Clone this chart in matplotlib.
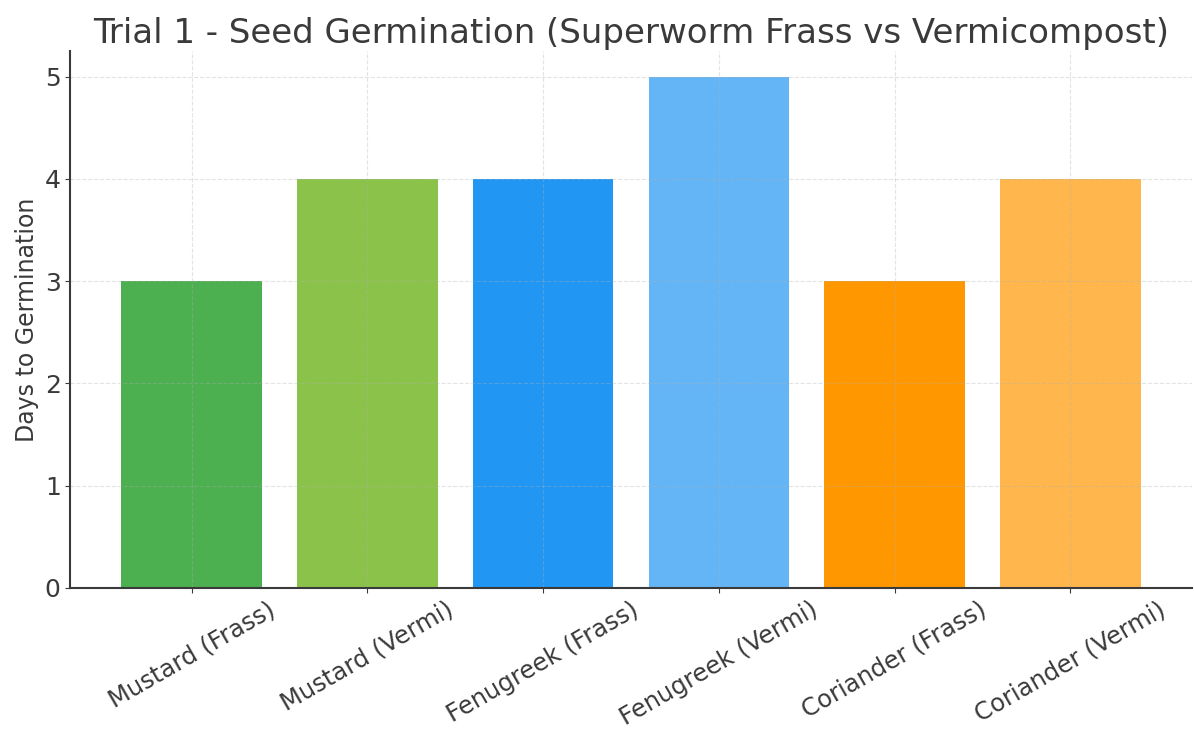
import matplotlib
matplotlib.use("Agg")
import matplotlib.pyplot as plt

# Datos del ensayo
labels = ["Mustard (Frass)", "Mustard (Vermi)", "Fenugreek (Frass)",
          "Fenugreek (Vermi)", "Coriander (Frass)", "Coriander (Vermi)"]
days = [3, 4, 4, 5, 3, 4]
colors = ["#4CAF50", "#8BC34A", "#2196F3", "#64B5F6", "#FF9800", "#FFB74D"]

fig, ax = plt.subplots(figsize=(11.94, 7.32), dpi=100)
fig.subplots_adjust(left=0.059, right=0.998, top=0.93, bottom=0.197)

ax.bar(labels, days, color=colors)

ax.set_title("Trial 1 - Seed Germination (Superworm Frass vs Vermicompost)",
             fontsize=24.5, color="#3a3a3a")
ax.set_ylabel("Days to Germination", fontsize=17, color="#3a3a3a")
ax.tick_params(axis="y", labelsize=18, colors="#3a3a3a")
ax.tick_params(axis="x", labelsize=17.5, colors="#3a3a3a", rotation=30)
ax.grid(True, linestyle="--", alpha=0.35)

for side in ["top", "right"]:
    ax.spines[side].set_visible(False)
for side in ["left", "bottom"]:
    ax.spines[side].set_color("#3a3a3a")
    ax.spines[side].set_linewidth(1.5)

fig.savefig("out.png", dpi=100)
